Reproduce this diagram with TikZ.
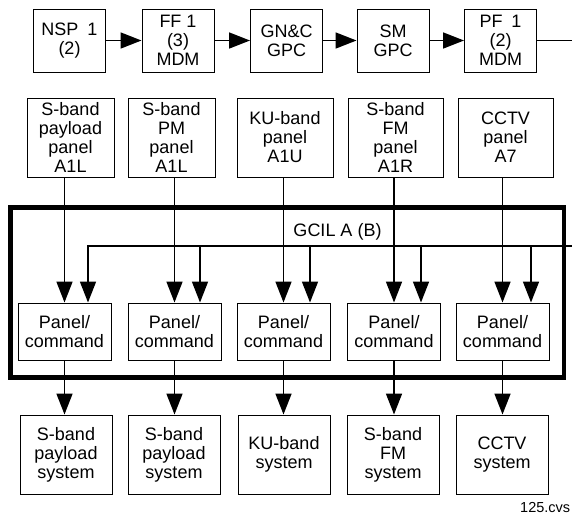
\documentclass[tikz,border=0pt]{standalone}
\usepackage{fontspec}
\setmainfont{Liberation Sans}
\usetikzlibrary{arrows.meta,positioning}

\begin{document}
\begin{tikzpicture}[x=1pt,y=-1pt,>={Triangle[length=21pt,width=16pt]},
    blk/.style={draw,line width=1pt,align=center,inner sep=0pt,font=\fontsize{18}{19}\selectfont},
    topblk/.style={blk,minimum width=72pt,minimum height=63pt},
    panblk/.style={blk,minimum height=79pt},
    cmdblk/.style={blk,minimum width=93pt,minimum height=57pt},
    sysblk/.style={blk,minimum width=92pt,minimum height=79pt},
    wire/.style={line width=1.7pt},
    frame/.style={line width=4.8pt}]
    \useasboundingbox (0,0) rectangle (572,515);
    % top chain
    \node[topblk] (nsp) at (69.5,40.5) {NSP\enspace 1\\(2)};
    \node[topblk] (ff)  at (178,40.5) {FF 1\\(3)\\MDM};
    \node[topblk] (gnc) at (286.5,40.5) {GN\&C\\GPC};
    \node[topblk] (sm)  at (393,40.5) {SM\\GPC};
    \node[topblk] (pf)  at (500.5,40.5) {PF\enspace 1\\(2)\\MDM};
    \coordinate (topend) at (572,40.5);
    \draw[wire,->] (nsp) -- (ff);
    \draw[wire,->] (ff) -- (gnc);
    \draw[wire,->] (gnc) -- (sm);
    \draw[wire,->] (sm) -- (pf);
    \draw[wire] (pf) -- (topend);
    % crew panels
    \node[panblk,minimum width=87pt] (pan1) at (70.5,137.5) {S-band\\payload\\panel\\A1L};
    \node[panblk,minimum width=87pt] (pan2) at (171.5,137.5) {S-band\\PM\\panel\\A1L};
    \node[panblk,minimum width=96pt] (pan3) at (285,137.5) {KU-band\\panel\\A1U};
    \node[panblk,minimum width=95pt] (pan4) at (395.5,137.5) {S-band\\FM\\panel\\A1R};
    \node[panblk,minimum width=95pt] (pan5) at (505.5,137.5) {CCTV\\panel\\A7};
    % GCIL box
    \draw[frame] (10.5,207.5) rectangle (564,377.5);
    \node[font=\fontsize{18}{19}\selectfont] (gcil) at (337.5,232) {GCIL A (B)};
    % panel/command units
    \node[cmdblk] (cmd1) at (64.5,331.5) {Panel/\\command};
    \node[cmdblk] (cmd2) at (174.5,331.5) {Panel/\\command};
    \node[cmdblk] (cmd3) at (283.5,331.5) {Panel/\\command};
    \node[cmdblk] (cmd4) at (394,331.5) {Panel/\\command};
    \node[cmdblk] (cmd5) at (502.5,331.5) {Panel/\\command};
    % payload systems
    \node[sysblk] (sys1) at (66,454.5) {S-band\\payload\\system};
    \node[sysblk] (sys2) at (174,454.5) {S-band\\payload\\system};
    \node[sysblk] (sys3) at (284,454.5) {KU-band\\system};
    \node[sysblk] (sys4) at (393,454.5) {S-band\\FM\\system};
    \node[sysblk] (sys5) at (502,454.5) {CCTV\\system};
    % panel inputs and outputs
    \foreach \i in {1,...,5} {
      \draw[wire,->] (cmd\i.north |- pan\i.south) -- (cmd\i.north);
      \draw[wire,->] (cmd\i.south) -- (cmd\i.south |- sys\i.north);
    }
    % bus from the top chain
    \coordinate (busW) at (88,246);
    \coordinate (busE) at (572,246);
    \draw[wire,->] (busE) -- (busW) -- (busW |- cmd1.north);
    \foreach \i/\d in {2/25.5,3/26.5,4/27,5/28.5}
      \draw[wire,->] ([xshift=\d pt]cmd\i.north |- busW) -- ([xshift=\d pt]cmd\i.north);
    % figure tag
    \node[font=\fontsize{14.5}{15}\selectfont,anchor=base west,inner sep=0pt] (tag) at (520,512) {125.cvs};
\end{tikzpicture}
\end{document}
